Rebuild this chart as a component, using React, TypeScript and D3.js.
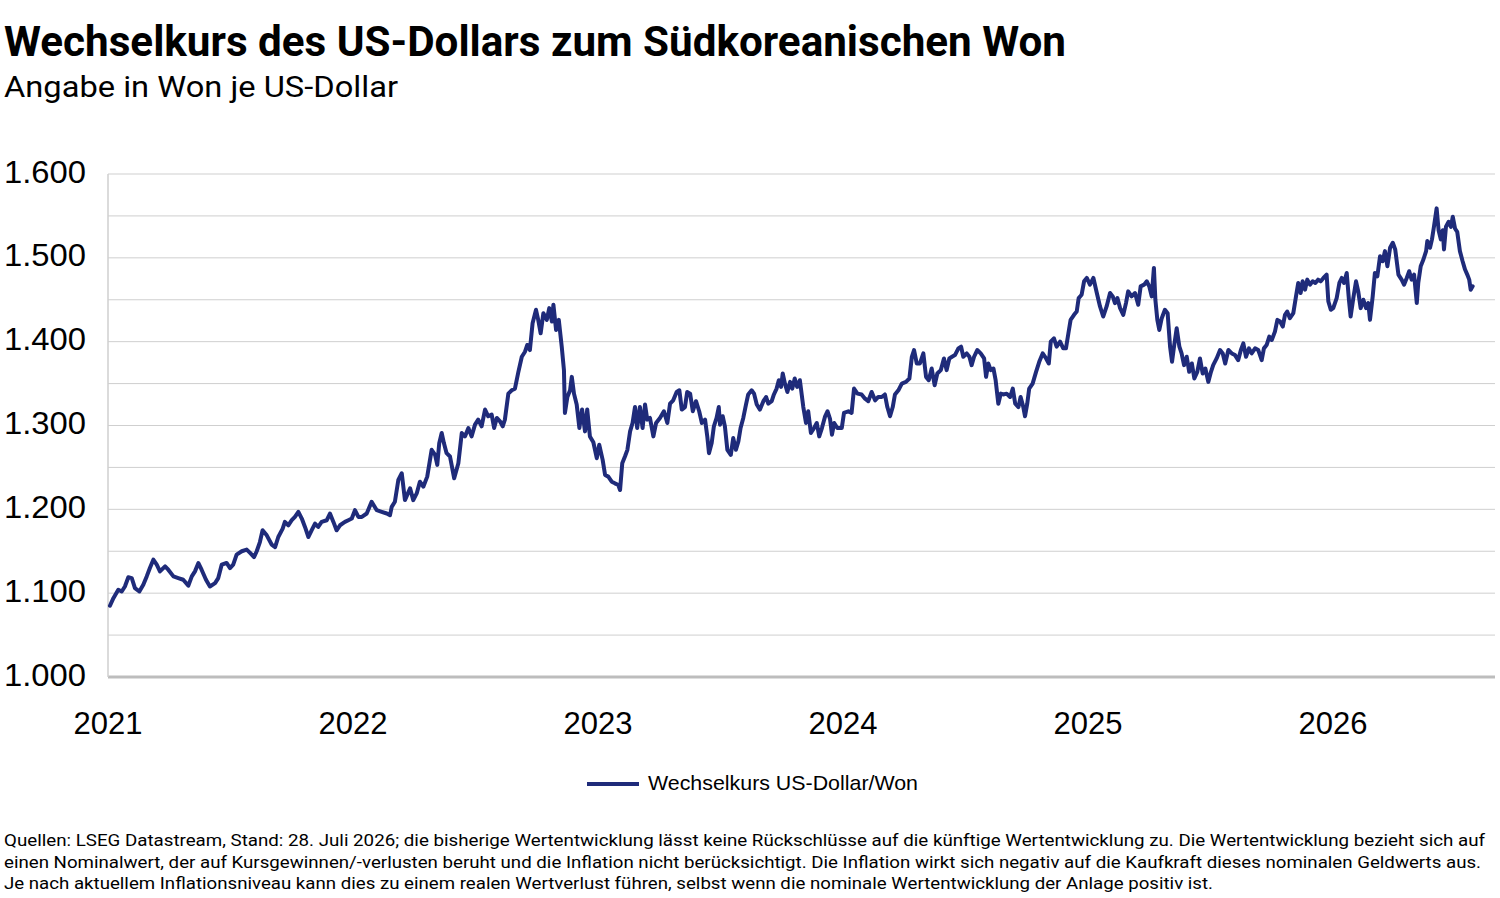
import React from 'react';
import * as d3 from 'd3';

type Pt = [number, number];

const rate2021: Pt[] = [[2021.008,1085],[2021.022,1094],[2021.042,1104],[2021.056,1102],[2021.069,1108],[2021.083,1119],[2021.097,1118],[2021.110,1106],[2021.128,1102],[2021.144,1110],[2021.158,1120],[2021.171,1130],[2021.185,1140],[2021.199,1134],[2021.212,1126],[2021.233,1132],[2021.246,1128],[2021.267,1120],[2021.287,1118],[2021.307,1116],[2021.328,1109],[2021.342,1120],[2021.355,1126],[2021.369,1136],[2021.382,1128],[2021.400,1116],[2021.416,1108],[2021.437,1112],[2021.450,1118],[2021.464,1134],[2021.484,1136],[2021.498,1130],[2021.511,1134],[2021.525,1146],[2021.546,1150],[2021.566,1152],[2021.580,1148],[2021.596,1143],[2021.607,1150],[2021.620,1161],[2021.631,1175],[2021.648,1169],[2021.668,1158],[2021.682,1155],[2021.695,1167],[2021.713,1177],[2021.722,1185],[2021.736,1181],[2021.750,1187],[2021.763,1191],[2021.777,1197],[2021.791,1189],[2021.804,1179],[2021.818,1167],[2021.831,1175],[2021.845,1183],[2021.858,1179],[2021.872,1185],[2021.893,1187],[2021.906,1195],[2021.920,1185],[2021.933,1175],[2021.947,1181],[2021.967,1185],[2021.981,1187],[2021.995,1189]];

const rate2022: Pt[] = [[2022.008,1199],[2022.022,1191],[2022.036,1191],[2022.056,1195],[2022.076,1209],[2022.097,1199],[2022.117,1197],[2022.138,1195],[2022.151,1193],[2022.158,1203],[2022.171,1209],[2022.185,1235],[2022.199,1243],[2022.212,1211],[2022.233,1225],[2022.246,1211],[2022.260,1219],[2022.273,1233],[2022.287,1227],[2022.303,1239],[2022.321,1271],[2022.335,1265],[2022.344,1253],[2022.352,1279],[2022.362,1291],[2022.371,1279],[2022.382,1267],[2022.396,1263],[2022.413,1237],[2022.430,1255],[2022.444,1291],[2022.457,1287],[2022.471,1297],[2022.484,1287],[2022.498,1301],[2022.511,1307],[2022.525,1299],[2022.539,1319],[2022.552,1311],[2022.566,1313],[2022.576,1297],[2022.587,1309],[2022.600,1305],[2022.611,1299],[2022.620,1307],[2022.634,1338],[2022.648,1342],[2022.661,1344],[2022.675,1364],[2022.689,1382],[2022.702,1388],[2022.711,1396],[2022.722,1390],[2022.733,1422],[2022.747,1438],[2022.756,1426],[2022.766,1410],[2022.777,1434],[2022.791,1426],[2022.801,1440],[2022.812,1424],[2022.818,1444],[2022.829,1414],[2022.840,1426],[2022.852,1394],[2022.861,1366],[2022.865,1315],[2022.875,1334],[2022.886,1342],[2022.893,1358],[2022.902,1338],[2022.913,1325],[2022.924,1297],[2022.935,1319],[2022.947,1293],[2022.956,1319],[2022.967,1287],[2022.981,1280],[2022.995,1261]];

const rate2023: Pt[] = [[2023.005,1277],[2023.019,1259],[2023.029,1241],[2023.042,1239],[2023.056,1233],[2023.069,1231],[2023.083,1229],[2023.090,1223],[2023.099,1255],[2023.110,1263],[2023.120,1271],[2023.131,1293],[2023.141,1303],[2023.151,1322],[2023.160,1297],[2023.171,1322],[2023.182,1297],[2023.192,1325],[2023.201,1307],[2023.212,1309],[2023.226,1287],[2023.237,1303],[2023.253,1309],[2023.269,1317],[2023.283,1303],[2023.294,1326],[2023.307,1330],[2023.321,1340],[2023.332,1342],[2023.342,1319],[2023.355,1322],[2023.364,1340],[2023.376,1338],[2023.387,1317],[2023.400,1329],[2023.413,1317],[2023.424,1303],[2023.437,1307],[2023.446,1287],[2023.453,1267],[2023.464,1279],[2023.473,1299],[2023.484,1309],[2023.493,1322],[2023.498,1301],[2023.509,1311],[2023.518,1299],[2023.528,1271],[2023.542,1265],[2023.552,1285],[2023.563,1271],[2023.573,1281],[2023.582,1297],[2023.593,1309],[2023.604,1325],[2023.613,1337],[2023.627,1342],[2023.637,1338],[2023.648,1325],[2023.661,1319],[2023.675,1329],[2023.686,1334],[2023.695,1326],[2023.709,1329],[2023.718,1337],[2023.729,1344],[2023.738,1354],[2023.747,1346],[2023.754,1362],[2023.763,1350],[2023.773,1340],[2023.784,1352],[2023.793,1344],[2023.803,1356],[2023.813,1346],[2023.824,1354],[2023.838,1322],[2023.849,1303],[2023.858,1317],[2023.869,1291],[2023.882,1297],[2023.893,1303],[2023.903,1287],[2023.914,1297],[2023.927,1311],[2023.937,1317],[2023.947,1308],[2023.955,1289],[2023.964,1303],[2023.977,1297],[2023.995,1297]];

const rate2024: Pt[] = [[2024.004,1315],[2024.022,1317],[2024.035,1315],[2024.045,1344],[2024.059,1338],[2024.076,1337],[2024.090,1332],[2024.103,1329],[2024.117,1340],[2024.131,1330],[2024.144,1334],[2024.158,1334],[2024.171,1337],[2024.181,1322],[2024.192,1311],[2024.203,1322],[2024.212,1337],[2024.226,1342],[2024.240,1350],[2024.257,1352],[2024.271,1356],[2024.281,1382],[2024.290,1390],[2024.301,1374],[2024.314,1374],[2024.328,1386],[2024.339,1358],[2024.350,1354],[2024.362,1368],[2024.374,1348],[2024.385,1362],[2024.399,1366],[2024.412,1380],[2024.423,1366],[2024.434,1380],[2024.445,1382],[2024.457,1384],[2024.471,1392],[2024.482,1394],[2024.491,1382],[2024.505,1386],[2024.516,1382],[2024.525,1372],[2024.535,1382],[2024.548,1390],[2024.562,1386],[2024.576,1380],[2024.584,1358],[2024.593,1374],[2024.603,1366],[2024.614,1368],[2024.623,1354],[2024.634,1326],[2024.644,1338],[2024.654,1337],[2024.668,1338],[2024.682,1334],[2024.693,1344],[2024.703,1326],[2024.716,1322],[2024.725,1334],[2024.736,1322],[2024.743,1311],[2024.752,1326],[2024.760,1344],[2024.774,1350],[2024.788,1364],[2024.801,1376],[2024.815,1386],[2024.829,1380],[2024.840,1374],[2024.848,1400],[2024.861,1404],[2024.872,1394],[2024.886,1400],[2024.899,1392],[2024.910,1392],[2024.920,1410],[2024.929,1426],[2024.943,1432],[2024.954,1436],[2024.962,1452],[2024.974,1456],[2024.984,1472],[2024.995,1476]];

const rate2025: Pt[] = [[2025.008,1468],[2025.022,1476],[2025.036,1458],[2025.049,1442],[2025.062,1430],[2025.076,1442],[2025.090,1458],[2025.101,1454],[2025.110,1446],[2025.120,1452],[2025.131,1440],[2025.144,1432],[2025.155,1446],[2025.164,1460],[2025.178,1454],[2025.192,1458],[2025.205,1444],[2025.215,1466],[2025.229,1468],[2025.240,1472],[2025.250,1466],[2025.260,1454],[2025.269,1488],[2025.275,1450],[2025.283,1426],[2025.291,1414],[2025.301,1428],[2025.314,1438],[2025.325,1434],[2025.335,1394],[2025.343,1376],[2025.351,1394],[2025.362,1416],[2025.373,1394],[2025.382,1386],[2025.392,1372],[2025.403,1382],[2025.413,1364],[2025.424,1374],[2025.434,1356],[2025.446,1364],[2025.457,1380],[2025.468,1362],[2025.479,1368],[2025.491,1352],[2025.502,1364],[2025.511,1372],[2025.525,1380],[2025.539,1390],[2025.550,1386],[2025.560,1374],[2025.573,1390],[2025.587,1386],[2025.600,1384],[2025.613,1378],[2025.624,1390],[2025.634,1398],[2025.645,1382],[2025.657,1392],[2025.668,1386],[2025.682,1392],[2025.695,1390],[2025.709,1378],[2025.718,1392],[2025.729,1396],[2025.740,1406],[2025.750,1402],[2025.763,1412],[2025.773,1426],[2025.784,1424],[2025.795,1418],[2025.804,1432],[2025.813,1436],[2025.824,1428],[2025.838,1434],[2025.849,1454],[2025.858,1470],[2025.868,1458],[2025.876,1472],[2025.886,1462],[2025.895,1474],[2025.906,1468],[2025.917,1472],[2025.928,1470],[2025.939,1474],[2025.950,1472],[2025.961,1476],[2025.974,1480],[2025.981,1448],[2025.991,1438]];

const rate2026: Pt[] = [[2026.001,1440],[2026.015,1452],[2026.026,1470],[2026.036,1476],[2026.045,1470],[2026.056,1482],[2026.065,1450],[2026.072,1430],[2026.083,1452],[2026.094,1472],[2026.103,1460],[2026.113,1440],[2026.124,1450],[2026.135,1440],[2026.144,1446],[2026.151,1426],[2026.162,1454],[2026.171,1482],[2026.181,1478],[2026.192,1502],[2026.203,1496],[2026.212,1508],[2026.222,1490],[2026.233,1512],[2026.244,1518],[2026.254,1510],[2026.267,1480],[2026.280,1474],[2026.290,1468],[2026.301,1476],[2026.311,1484],[2026.321,1474],[2026.331,1480],[2026.342,1446],[2026.348,1470],[2026.358,1490],[2026.369,1498],[2026.380,1508],[2026.385,1520],[2026.396,1512],[2026.404,1522],[2026.412,1537],[2026.423,1559],[2026.431,1533],[2026.440,1522],[2026.448,1533],[2026.453,1510],[2026.461,1537],[2026.472,1543],[2026.481,1537],[2026.489,1549],[2026.498,1535],[2026.507,1531],[2026.518,1508],[2026.529,1496],[2026.539,1486],[2026.548,1480],[2026.556,1474],[2026.562,1462],[2026.570,1466]];

const yLabelTicks = [1000, 1100, 1200, 1300, 1400, 1500, 1600];
const yGridTicks = [1000, 1050, 1100, 1150, 1200, 1250, 1300, 1350, 1400, 1450, 1500, 1550, 1600];
const xYearTicks = [2021, 2022, 2023, 2024, 2025, 2026];

const titleText = 'Wechselkurs des US-Dollars zum Südkoreanischen Won';
const subtitleText = 'Angabe in Won je US-Dollar';
const legendLabel = 'Wechselkurs US-Dollar/Won';
const footerLines = [
  'Quellen: LSEG Datastream, Stand: 28. Juli 2026; die bisherige Wertentwicklung lässt keine Rückschlüsse auf die künftige Wertentwicklung zu. Die Wertentwicklung bezieht sich auf',
  'einen Nominalwert, der auf Kursgewinnen/-verlusten beruht und die Inflation nicht berücksichtigt. Die Inflation wirkt sich negativ auf die Kaufkraft dieses nominalen Geldwerts aus.',
  'Je nach aktuellem Inflationsniveau kann dies zu einem realen Wertverlust führen, selbst wenn die nominale Wertentwicklung der Anlage positiv ist.',
];
const footerWidths = [1481, 1477, 1209];

const LINE_COLOR = '#1f2b7a';
const GRID_COLOR = '#cfcfcf';
const AXIS_COLOR = '#bdbdbd';
const HEAD_FONT = 'Roboto, "Noto Sans", sans-serif';
const TICK_FONT = '"Liberation Sans", Arial, sans-serif';

export default function App() {
  const W = 1500;
  const H = 898;
  const left = 108;
  const right = 1495;
  const top = 174;
  const bottom = 677;

  const x = d3.scaleLinear().domain([2021, 2021 + (right - left) / 245]).range([left, right]);
  const y = d3.scaleLinear().domain([1000, 1600]).range([bottom, top]);

  const data: Pt[] = [...rate2021, ...rate2022, ...rate2023, ...rate2024, ...rate2025, ...rate2026];
  const linePath = d3
    .line<Pt>()
    .x((d) => x(d[0]))
    .y((d) => y(d[1]))(data) as string;

  const de = d3.formatLocale({ decimal: ',', thousands: '.', grouping: [3], currency: ['', ' €'] });
  const fmt = de.format(',d');

  return (
    <svg
      width={W}
      height={H}
      viewBox={`0 0 ${W} ${H}`}
      style={{ position: 'absolute', left: 0, top: 0, display: 'block', background: '#fff' }}
    >
      <rect x={0} y={0} width={W} height={H} fill="#fff" />
      <text x={4} y={56} fontFamily={HEAD_FONT} fontWeight={700} fontSize={42} fill="#000"
        textLength={1062} lengthAdjust="spacingAndGlyphs">{titleText}</text>
      <text x={4} y={97} fontFamily={HEAD_FONT} fontWeight={400} fontSize={30} fill="#000"
        textLength={394} lengthAdjust="spacingAndGlyphs">{subtitleText}</text>

      {yGridTicks.map((v) => (
        <line key={'g' + v} x1={left} x2={right} y1={y(v)} y2={y(v)}
          stroke={v === 1000 ? AXIS_COLOR : GRID_COLOR} strokeWidth={v === 1000 ? 3 : 1} />
      ))}
      <line x1={left} x2={left} y1={top} y2={bottom} stroke={GRID_COLOR} strokeWidth={1.5} />

      {yLabelTicks.map((v) => (
        <text key={'yl' + v} x={86} y={y(v) + 8.5} textAnchor="end" fontFamily={TICK_FONT}
          fontSize={32} fill="#000" textLength={82} lengthAdjust="spacingAndGlyphs">{fmt(v)}</text>
      ))}
      {xYearTicks.map((yr) => (
        <text key={'xl' + yr} x={x(yr)} y={734} textAnchor="middle" fontFamily={TICK_FONT}
          fontSize={31} fill="#000">{yr}</text>
      ))}

      <path d={linePath} fill="none" stroke={LINE_COLOR} strokeWidth={4} strokeLinejoin="round" strokeLinecap="round" />

      <line x1={587} x2={639} y1={784} y2={784} stroke={LINE_COLOR} strokeWidth={4} />
      <text x={648} y={790} fontFamily={TICK_FONT} fontSize={21} fill="#000"
        textLength={270} lengthAdjust="spacingAndGlyphs">{legendLabel}</text>

      {footerLines.map((t, i) => (
        <text key={'f' + i} x={4} y={846 + i * 21.5} fontFamily={HEAD_FONT} fontSize={17} fill="#000"
          textLength={footerWidths[i]} lengthAdjust="spacingAndGlyphs">{t}</text>
      ))}
    </svg>
  );
}
